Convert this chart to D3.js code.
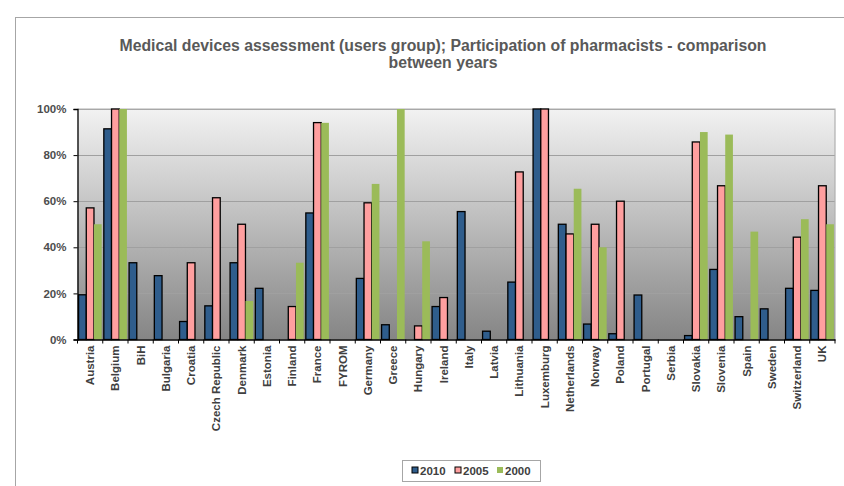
<!DOCTYPE html>
<html>
<head>
<meta charset="utf-8">
<script src="https://cdn.jsdelivr.net/npm/d3@7"></script>
<style>
  html, body { margin: 0; padding: 0; background: #fff; }
  svg { display: block; }
  text { font-family: "Liberation Sans", Arial, sans-serif; font-weight: bold; }
</style>
</head>
<body>
<svg id="chart" width="844" height="486"></svg>
<script>
const categories = ["Austria","Belgium","BiH","Bulgaria","Croatia","Czech Republic","Denmark","Estonia","Finland","France","FYROM","Germany","Greece","Hungary","Ireland","Italy","Latvia","Lithuania","Luxemburg","Netherlands","Norway","Poland","Portugal","Serbia","Slovakia","Slovenia","Spain","Sweden","Switzerland","UK"];
const seriesNames = ["2010","2005","2000"];
const values2010 = [19.4, 91.4, 33.3, 27.7, 7.8, 14.6, 33.3, 22.2, null, 54.9, null, 26.5, 6.4, null, 14.3, 55.5, 3.6, 24.9, 100, 50, 6.7, 2.5, 19.3, null, 1.7, 30.4, 9.9, 13.3, 22.2, 21.3];
const values2005 = [57.1, 100, null, null, 33.3, 61.5, 50, null, 14.3, 94.1, null, 59.3, null, 5.9, 18.2, null, null, 72.7, 100, 45.8, 50, 60, null, null, 85.7, 66.7, null, null, 44.4, 66.7];
const values2000 = [50, 100, null, null, null, null, 16.7, null, 33.3, 94, null, 67.5, 100, 42.6, null, null, null, null, null, 65.4, 40, null, null, null, 90, 88.9, 46.8, null, 52.2, 50];
const yTicks = [0, 20, 40, 60, 80, 100];
const titleLines = ["Medical devices assessment (users group); Participation of pharmacists - comparison", "between years"];

const colors = { "2010": "#2f5d8c", "2005": "#ff9f9f", "2000": "#9bbb59" };
const strokes = { "2010": "#000", "2005": "#000", "2000": "none" };
const seriesData = { "2010": values2010, "2005": values2005, "2000": values2000 };

const svg = d3.select("#chart");
const pLeft = 77.5, pRight = 835, pTop = 109, pBottom = 339.5;

// outer chart frame
svg.append("rect").attr("x", 15.5).attr("y", 17.5).attr("width", 840).attr("height", 480)
  .attr("fill", "none").attr("stroke", "#a6a6a6").attr("stroke-width", 1);

// title
svg.append("g").selectAll("text").data(titleLines).join("text")
  .attr("x", 443).attr("y", (d, i) => 50.5 + i * 17)
  .attr("text-anchor", "middle").attr("fill", "#595959")
  .attr("font-size", "15.8px").text(d => d);

// gradient background
const defs = svg.append("defs");
const grad = defs.append("linearGradient").attr("id", "bg").attr("x1", 0).attr("y1", 0).attr("x2", 0).attr("y2", 1);
grad.append("stop").attr("offset", "0%").attr("stop-color", "#f2f2f2");
grad.append("stop").attr("offset", "100%").attr("stop-color", "#858585");
svg.append("rect").attr("x", pLeft).attr("y", pTop).attr("width", pRight - pLeft).attr("height", pBottom - pTop)
  .attr("fill", "url(#bg)");

const x = d3.scaleBand().domain(categories).range([pLeft, pRight]).padding(0);
const xs = d3.scaleBand().domain(seriesNames).range([0, x.bandwidth()]).paddingInner(0).paddingOuter(0.14);
const y = d3.scaleLinear().domain([0, 100]).range([pBottom, pTop]);

// gridlines
svg.append("g").selectAll("line").data(yTicks.filter(t => t > 0)).join("line")
  .attr("x1", pLeft).attr("x2", pRight).attr("y1", d => Math.round(y(d)) + 0.5).attr("y2", d => Math.round(y(d)) + 0.5)
  .attr("stroke", "#a0a0a0").attr("stroke-width", 1);

// plot border (top/right gray)
svg.append("path").attr("d", `M${pLeft},${pTop}H${pRight}V${pBottom}`).attr("fill", "none")
  .attr("stroke", "#b0b0b0").attr("stroke-width", 1.2);

// bars
const barData = [];
categories.forEach((c, i) => seriesNames.forEach(s => {
  const v = seriesData[s][i];
  if (v !== null) barData.push({ c, s, v });
}));
svg.append("g").selectAll("rect").data(barData).join("rect")
  .attr("x", d => x(d.c) + xs(d.s))
  .attr("y", d => y(d.v))
  .attr("width", xs.bandwidth())
  .attr("height", d => pBottom - y(d.v))
  .attr("fill", d => colors[d.s])
  .attr("stroke", d => strokes[d.s])
  .attr("stroke-width", 1.3);

// y axis
const yAxis = svg.append("g").attr("transform", `translate(${pLeft},0)`)
  .call(d3.axisLeft(y).tickValues(yTicks).tickFormat(d => d + "%").tickSize(4).tickPadding(7));
yAxis.select(".domain").attr("stroke", "#000").attr("stroke-width", 1.3);
yAxis.selectAll(".tick line").attr("stroke", "#000");
yAxis.selectAll(".tick text").attr("fill", "#4d4d4d").attr("font-size", "11.5px")
  .attr("font-family", "Liberation Sans, Arial, sans-serif").attr("font-weight", "bold");

// x axis
const xAxis = svg.append("g").attr("transform", `translate(0,${pBottom})`)
  .call(d3.axisBottom(x).tickSize(0).tickPadding(0));
xAxis.select(".domain").attr("stroke", "#000").attr("stroke-width", 1.3);
xAxis.selectAll(".tick text")
  .attr("transform", "rotate(-90)")
  .attr("x", -6).attr("y", 0).attr("dy", "0.35em")
  .attr("text-anchor", "end")
  .attr("fill", "#404040").attr("font-size", "11.5px")
  .attr("font-family", "Liberation Sans, Arial, sans-serif").attr("font-weight", "bold");
// category separator ticks
const sepTicks = categories.map(c => x(c)).concat([pRight]);
svg.append("g").selectAll("line").data(sepTicks).join("line")
  .attr("x1", d => d).attr("x2", d => d).attr("y1", pBottom).attr("y2", pBottom + 4)
  .attr("stroke", "#000").attr("stroke-width", 1);

// legend
const lg = svg.append("g");
lg.append("rect").attr("x", 402.5).attr("y", 460.5).attr("width", 138).attr("height", 21)
  .attr("fill", "#fff").attr("stroke", "#a6a6a6");
const legendX = [412, 455, 497];
seriesNames.forEach((s, i) => {
  lg.append("rect").attr("x", legendX[i]).attr("y", 467).attr("width", 6).attr("height", 6)
    .attr("fill", colors[s]).attr("stroke", strokes[s]).attr("stroke-width", 1);
  lg.append("text").attr("x", legendX[i] + 8).attr("y", 475).attr("fill", "#404040")
    .attr("font-size", "11.5px").text(s);
});
</script>
</body>
</html>
